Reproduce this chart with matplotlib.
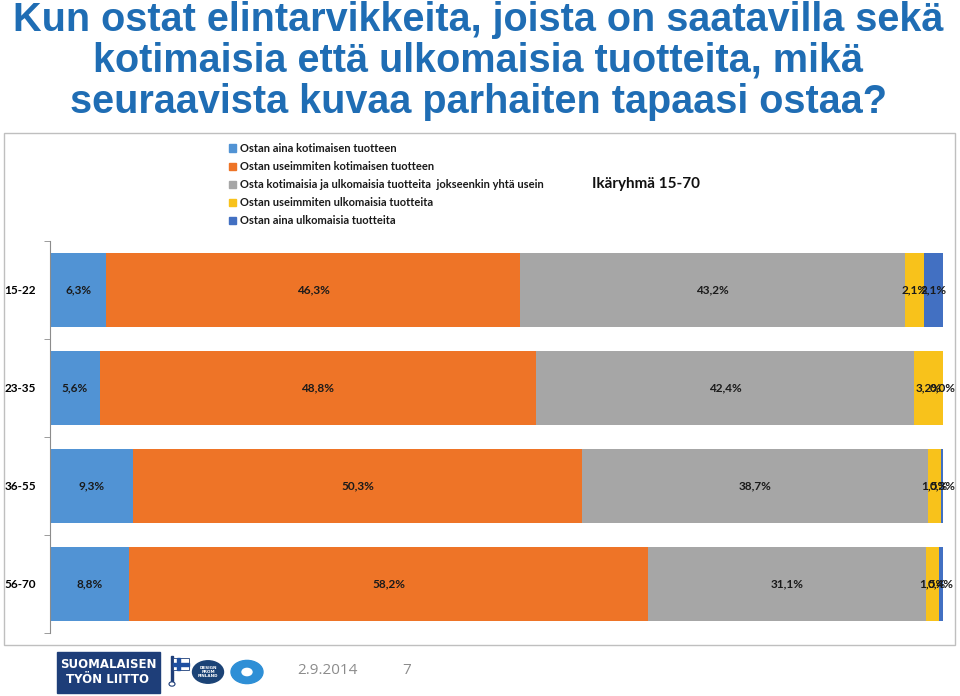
import numpy as np
import matplotlib.pyplot as plt
from matplotlib.patches import Rectangle, Circle

# -----------------------
# Data
# -----------------------
groups = ["15-22", "23-35", "36-55", "56-70"]
series_names = [
    "Ostan aina kotimaisen tuotteen",
    "Ostan useimmiten kotimaisen tuotteen",
    "Osta kotimaisia ja ulkomaisia tuotteita  jokseenkin yhtä usein",
    "Ostan useimmiten ulkomaisia tuotteita",
    "Ostan aina ulkomaisia tuotteita",
]
always_domestic = [6.3, 5.6, 9.3, 8.8]
mostly_domestic = [46.3, 48.8, 50.3, 58.2]
both_equally = [43.2, 42.4, 38.7, 31.1]
mostly_foreign = [2.1, 3.2, 1.5, 1.5]
always_foreign = [2.1, 0.0, 0.3, 0.4]

colors = ["#5193D4", "#EE7427", "#A6A6A6", "#F8C21B", "#4270C2"]

title = ("Kun ostat elintarvikkeita, joista on saatavilla sekä\n"
         "kotimaisia että ulkomaisia tuotteita, mikä\n"
         "seuraavista kuvaa parhaiten tapaasi ostaa?")

# -----------------------
# Figure
# -----------------------
W, H = 960, 696
fig = plt.figure(figsize=(9.6, 6.96), dpi=100)

def fx(px):
    return px / W

def fy(py):
    return 1 - py / H

fig.text(fx(478), fy(1), title, ha="center", va="top", fontsize=28.5,
         fontweight="bold", color="#1F6DB4", family="Liberation Sans",
         linespacing=1.1)

# chart frame
fig.patches.append(Rectangle((fx(4), fy(645)), fx(951), 512 / H,
                             transform=fig.transFigure, fill=False,
                             edgecolor="#BFBFBF", linewidth=1))

ax = fig.add_axes([fx(50), fy(633), fx(893), 392 / H])
data = np.array([always_domestic, mostly_domestic, both_equally,
                 mostly_foreign, always_foreign])
y = np.arange(len(groups))
left = np.zeros(len(groups))
for vals, col in zip(data, colors):
    ax.barh(y, vals, left=left, height=0.755, color=col, edgecolor="none")
    for yi, l, v in zip(y, left, vals):
        ax.text(l + v / 2, yi, f"{v:.1f}%".replace(".", ","), ha="center",
                va="center", fontsize=8.5, fontweight="bold", color="#1A1A1A",
                family="Lato")
    left += vals

ax.set_xlim(0, 100)
ax.set_ylim(3.5, -0.5)
ax.set_xticks([])
ax.set_yticks(y)
ax.set_yticklabels(groups, fontsize=8.5, fontweight="bold", family="Lato")
ax.set_yticks(np.arange(-0.5, 4, 1), minor=True)
ax.tick_params(axis="y", which="major", length=0, pad=10)
ax.tick_params(axis="y", which="minor", length=4, color="#8C8C8C")
for s in ["top", "right", "bottom"]:
    ax.spines[s].set_visible(False)
ax.spines["left"].set_color("#8C8C8C")

# legend
for i, (name, col) in enumerate(zip(series_names, colors)):
    yy = 148 + i * 18.2
    fig.patches.append(Rectangle((fx(229), fy(yy + 3.5)), fx(7), 7 / H,
                                 transform=fig.transFigure, color=col))
    fig.text(fx(240), fy(yy), name, ha="left", va="center", fontsize=8,
             fontweight="bold", color="#1A1A1A", family="Lato")

fig.text(fx(592), fy(184), "Ikäryhmä 15-70", ha="left", va="center",
         fontsize=11, fontweight="bold", color="#111111", family="Lato")

# footer
fig.patches.append(Rectangle((fx(57), fy(693)), fx(103), 41 / H,
                             transform=fig.transFigure, color="#1E3E79"))
fig.text(fx(108), fy(672), "SUOMALAISEN\nTYÖN LIITTO", ha="center",
         va="center", fontsize=8.5, fontweight="bold", color="white",
         family="DejaVu Sans", linespacing=1.15)
fig.patches.append(Circle((fx(208), fy(672)), 15.5 / W,
                          transform=fig.transFigure, color="#1B4376"))
fig.text(fx(208), fy(672), "DESIGN\nFROM\nFINLAND", ha="center", va="center",
         fontsize=3, fontweight="bold", color="white", linespacing=1.0)
fig.patches.append(Circle((fx(247), fy(672)), 16 / W,
                          transform=fig.transFigure, color="#2E8FD6"))
fig.patches.append(Circle((fx(247), fy(672)), 5 / W,
                          transform=fig.transFigure, color="white"))
fig.patches.append(Rectangle((fx(171), fy(682)), fx(1.5), 26 / H,
                             transform=fig.transFigure, color="#1E3E79"))
fig.patches.append(Circle((fx(172), fy(684)), 3 / W,
                          transform=fig.transFigure, facecolor="white",
                          edgecolor="#1E3E79", linewidth=0.8))
fig.patches.append(Rectangle((fx(173), fy(670)), fx(16), 12 / H,
                             transform=fig.transFigure, facecolor="white",
                             edgecolor="#1E3E79", linewidth=0.6))
fig.patches.append(Rectangle((fx(177), fy(670)), fx(3), 12 / H,
                             transform=fig.transFigure, color="#1E4FA0"))
fig.patches.append(Rectangle((fx(173), fy(665.5)), fx(16), 3 / H,
                             transform=fig.transFigure, color="#1E4FA0"))

fig.text(fx(297), fy(670), "2.9.2014", ha="left", va="center", fontsize=11,
         color="#8C8C8C", family="Open Sans")
fig.text(fx(402), fy(670), "7", ha="left", va="center", fontsize=11,
         color="#8C8C8C", family="Open Sans")

fig.savefig("out.png", dpi=100)
